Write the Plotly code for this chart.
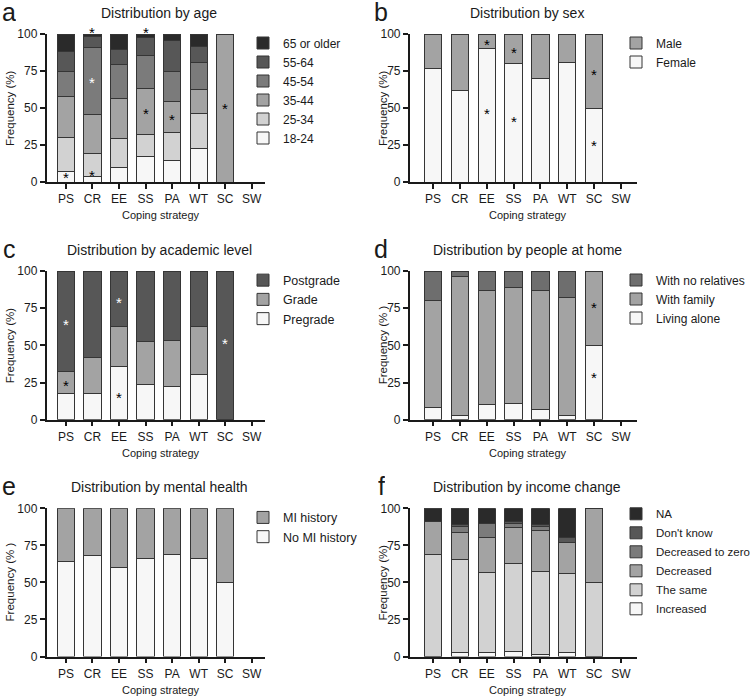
"""
Demographic distribution by coping strategy - six stacked bar panels.
"""

import plotly.graph_objects as go

# =============================================================================
# DATA
# =============================================================================

STRATEGIES = ["PS", "CR", "EE", "SS", "PA", "WT", "SC", "SW"]

# a - age (bottom to top); SW has no respondents
AGE_18_24 = [7, 3.5, 9.5, 17.5, 14.5, 22.5, 0, None]
AGE_25_34 = [23, 16, 20, 14.5, 19, 24, 0, None]
AGE_35_44 = [28, 26, 27, 31, 21, 16, 100, None]
AGE_45_54 = [17, 45.5, 23, 22.5, 20.5, 18, 0, None]
AGE_55_64 = [13.5, 7.5, 10, 12, 20.5, 11, 0, None]
AGE_65_PLUS = [11.5, 1.5, 10.5, 2.5, 4.5, 8.5, 0, None]

# b - sex
SEX_FEMALE = [77, 62, 90, 80, 70, 81, 50, None]
SEX_MALE = [23, 38, 10, 20, 30, 19, 50, None]

# c - academic level
ACAD_PREGRADE = [17.5, 17.5, 35.5, 23.5, 22.5, 30.5, 0, None]
ACAD_GRADE = [15, 24, 27, 29, 31, 32, 0, None]
ACAD_POSTGRADE = [67.5, 58.5, 37.5, 47.5, 46.5, 37.5, 100, None]

# d - people at home
HOME_ALONE = [8, 3, 10, 11, 7, 3, 50, None]
HOME_FAMILY = [72, 93, 77, 78, 80, 79, 50, None]
HOME_NO_RELATIVES = [20, 4, 13, 11, 13, 18, 0, None]

# e - mental health
MH_NO_HISTORY = [64, 68, 60, 66, 69, 66, 50, None]
MH_HISTORY = [36, 32, 40, 34, 31, 34, 50, None]

# f - income change
INC_INCREASED = [0, 3, 3, 3.5, 1.5, 3, 0, None]
INC_SAME = [69, 62.5, 54, 59.5, 56, 53, 50, None]
INC_DECREASED = [22, 18, 23, 24, 27.5, 21, 50, None]
INC_DEC_ZERO = [0, 4.5, 10, 2.5, 2.5, 0, 0, None]
INC_DONT_KNOW = [0, 1, 0, 1.5, 1.5, 3.5, 0, None]
INC_NA = [9, 11, 10, 9, 11, 19.5, 0, None]

# significance marks: (strategy, height in %, colour)
STARS = {
    1: [("PS", 5, "black"), ("CR", 103, "black"), ("CR", 69, "white"),
        ("CR", 6.5, "black"), ("SS", 103, "black"), ("SS", 48.5, "black"),
        ("PA", 44, "black"), ("SC", 52, "black")],
    2: [("EE", 95, "black"), ("EE", 48.5, "black"), ("SS", 89.5, "black"),
        ("SS", 43, "black"), ("SC", 75, "black"), ("SC", 27, "black")],
    3: [("PS", 66, "white"), ("PS", 25, "black"), ("EE", 80.5, "white"),
        ("EE", 17, "black"), ("SC", 53.5, "white")],
    4: [("SC", 77.5, "black"), ("SC", 30.5, "black")],
}

# =============================================================================
# STYLE
# =============================================================================

W, H = 756, 697
FONT = "Arial, Liberation Sans, sans-serif"
TEXT = "#1a1a1a"
EDGE = "#353535"

G_WHITE = "#f7f7f7"
G_LIGHT = "#d2d2d2"
G_MID = "#a3a3a3"
G_MIDDARK = "#7b7b7b"
G_DARK = "#575757"
G_BLACK = "#2a2a2a"

# pixel geometry of the panels
COLS = {  # x left, x right, x range
    0: (46.5, 265, [-0.73, 7.5]),
    1: (409.7, 637, [-0.87, 7.6]),
}
ROWS = {  # top (100 %), bottom (0 %)
    0: (34, 182),
    1: (271, 419.7),
    2: (508.3, 656.5),
}


def fx(p):
    return p / W


def fy(p):
    return 1 - p / H


def label(text, x, y, size, **kw):
    """Paper-positioned text, centred on the given pixel point."""
    return dict(text=text, x=fx(x), y=fy(y), xref="paper", yref="paper",
                xanchor="center", yanchor="middle", showarrow=False,
                font=dict(size=size, color=TEXT), **kw)


PANELS = [
    dict(letter="a", title="Distribution by age", ylabel="Frequency (%)",
         series=[("18-24", AGE_18_24, G_WHITE), ("25-34", AGE_25_34, G_LIGHT),
                 ("35-44", AGE_35_44, G_MID), ("45-54", AGE_45_54, G_MIDDARK),
                 ("55-64", AGE_55_64, G_DARK), ("65 or older", AGE_65_PLUS, G_BLACK)]),
    dict(letter="b", title="Distribution by sex", ylabel="Frequency (%)",
         series=[("Female", SEX_FEMALE, G_WHITE), ("Male", SEX_MALE, G_MID)]),
    dict(letter="c", title="Distribution by academic level", ylabel="Frequency (%)",
         series=[("Pregrade", ACAD_PREGRADE, G_WHITE), ("Grade", ACAD_GRADE, G_MID),
                 ("Postgrade", ACAD_POSTGRADE, G_DARK)]),
    dict(letter="d", title="Distribution by people at home", ylabel="Frequency (% )",
         series=[("Living alone", HOME_ALONE, G_WHITE), ("With family", HOME_FAMILY, G_MID),
                 ("With no relatives", HOME_NO_RELATIVES, "#6e6e6e")]),
    dict(letter="e", title="Distribution by mental health", ylabel="Frequency (% )",
         series=[("No MI history", MH_NO_HISTORY, G_WHITE), ("MI history", MH_HISTORY, G_MID)]),
    dict(letter="f", title="Distribution by income change", ylabel="Frequency (%)",
         series=[("Increased", INC_INCREASED, G_WHITE), ("The same", INC_SAME, G_LIGHT),
                 ("Decreased", INC_DECREASED, G_MID), ("Decreased to zero", INC_DEC_ZERO, G_MIDDARK),
                 ("Don't know", INC_DONT_KNOW, G_DARK), ("NA", INC_NA, G_BLACK)]),
]

# =============================================================================
# FIGURE
# =============================================================================

fig = go.Figure()
layout = {}
annotations = []

for i, panel in enumerate(PANELS):
    n = i + 1
    col, row = i % 2, i // 2
    x0, x1, xr = COLS[col]
    top, bottom = ROWS[row]
    sfx = "" if n == 1 else str(n)
    leg = "legend" if n == 1 else f"legend{n}"

    for name, values, color in panel["series"]:
        fig.add_trace(go.Bar(
            x=STRATEGIES, y=values, name=name,
            xaxis=f"x{sfx}", yaxis=f"y{sfx}", legend=leg,
            marker=dict(color=color, line=dict(color=EDGE, width=1)),
        ))

    axis_common = dict(
        showline=True, linecolor=TEXT, linewidth=1.5, ticks="outside",
        ticklen=5, tickwidth=1.5, tickcolor=TEXT, showgrid=False, zeroline=False,
        automargin=False, tickfont=dict(size=12, color=TEXT, family=FONT),
    )
    layout[f"xaxis{sfx}"] = dict(
        axis_common, domain=[fx(x0), fx(x1)], anchor=f"y{sfx}",
        type="category", range=xr,
    )
    layout[f"yaxis{sfx}"] = dict(
        axis_common, domain=[fy(bottom), fy(top)], anchor=f"x{sfx}",
        range=[0, 100], tickvals=[0, 25, 50, 75, 100],
    )

    # legend to the right of the panel
    lx = 243 if col == 0 else 616
    big = len(panel["series"]) > 5
    if col == 1 and big:
        lsize, ltop = 11.5, top - 9
    else:
        lsize, ltop = (12 if col else (12 if big else 12.5)), top - 5.5
    layout[leg] = dict(
        x=fx(lx), y=fy(ltop), xanchor="left", yanchor="top",
        traceorder="reversed", bgcolor="rgba(0,0,0,0)",
        font=dict(size=lsize, color=TEXT, family=FONT),
    )

    # texts
    annotations.append(label(panel["title"], 159 if col == 0 else 527, top - 21, 14))
    annotations.append(label(panel["letter"], 9 if col == 0 else 381, top - 22, 25,
                             height=22))
    annotations.append(label(panel["ylabel"], 10 if col == 0 else 383,
                             (top + bottom) / 2, 11.5, textangle=-90))
    annotations.append(label("Coping strategy", (x0 + x1) / 2 + 5, bottom + 33, 11))

    for strat, yv, color in STARS.get(n, []):
        annotations.append(dict(text="*", x=strat, y=yv / 100,
                                xref=f"x{sfx}", yref=f"y{sfx} domain",
                                xanchor="center", yanchor="middle",
                                showarrow=False, yshift=-3,
                                font=dict(size=15, color=color)))

fig.update_layout(
    **layout,
    template="none",
    annotations=annotations,
    barmode="stack",
    bargap=0.35,
    width=W,
    height=H,
    margin=dict(l=0, r=0, t=0, b=0, autoexpand=False),
    paper_bgcolor="white",
    plot_bgcolor="white",
    font=dict(family=FONT, color=TEXT),
    showlegend=True,
)

# drop the default page margin so the figure sits at the window origin
fig.write_html(
    "out.html",
    config={"displayModeBar": False},
    post_script="document.body.style.margin = '0';",
)
